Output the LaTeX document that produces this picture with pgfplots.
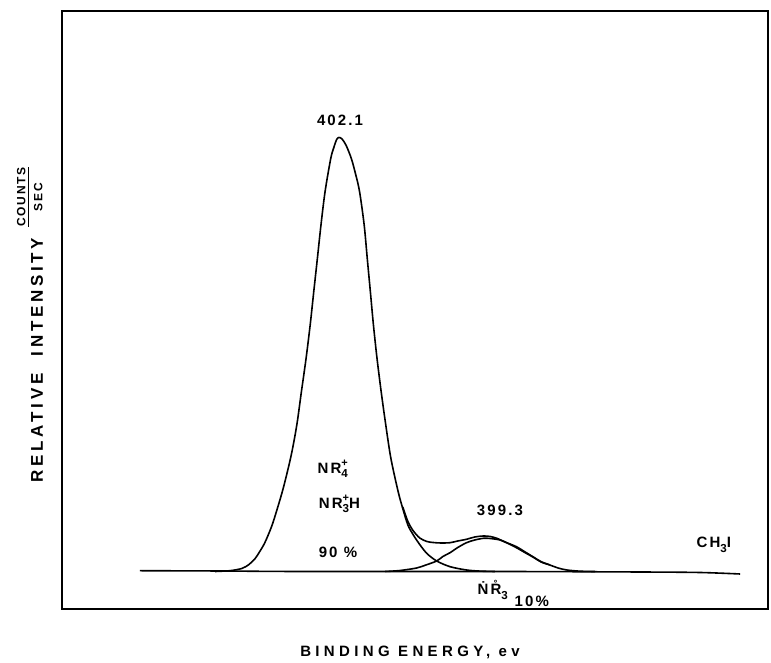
\documentclass[border=0pt]{standalone}
\usepackage{fontspec}
\setmainfont{Liberation Sans}[LetterSpace=14, UprightFont=* Bold]
\usepackage{pgfplots}
\pgfplotsset{compat=1.18}
\newcommand\supsub[2]{\makebox[0pt][l]{\raisebox{3.4pt}{\fontsize{5.5}{6}\selectfont #1}}\raisebox{-2.2pt}{\fontsize{5.8}{6}\selectfont #2}}
\newcommand\sub[1]{\raisebox{-2.2pt}{\fontsize{5.8}{6}\selectfont #1}}

\begin{document}
\begin{tikzpicture}
\begin{axis}[
  scale only axis, width=352.8pt, height=299.2pt,
  xmin=393.758, xmax=407.478, ymin=-37.5, ymax=560.9,
  x dir=reverse,
  axis line style={line width=1pt},
  ticks=none,
  clip=false,
]
% baseline
\addplot[black, line width=0.8pt, smooth] coordinates {
(405.97,0.8) (404.41,0.5) (402.86,0) (398.97,0) (396.25,-0.5) (395.08,-1) (394.30,-2.5)};
% main component (402.1 eV)
\addplot[black, line width=0.8pt, smooth] coordinates {
(404.51,0) (404.22,0.8) (403.99,3) (403.85,7) (403.73,13) (403.64,20) (403.54,29) (403.41,45)
(403.31,61) (403.18,84) (403.03,116) (402.92,146.5) (402.83,180) (402.74,213) (402.66,246.5)
(402.59,280) (402.52,313) (402.45,346.5) (402.37,380) (402.26,413) (402.20,424) (402.145,432)
(402.10,434) (402.04,432.5) (401.96,426) (401.86,413) (401.78,398) (401.70,380) (401.61,346.5)
(401.55,313) (401.49,280) (401.43,246.5) (401.36,213) (401.28,180) (401.19,146.5) (401.09,113)
(400.95,80) (400.86,63) (400.76,46.5) (400.66,37) (400.53,27) (400.39,18) (400.20,10.5)
(399.94,4.8) (399.62,1.5) (399.36,0.4) (399.07,0)};
% small component (399.3 eV)
\addplot[black, line width=0.8pt, smooth] coordinates {
(401.2,0) (400.91,1) (400.59,3.5) (400.41,6.5) (400.20,10.5) (400.08,15) (399.94,18.8) (399.79,24)
(399.62,28.8) (399.46,31.5) (399.29,33.2) (399.16,33) (398.97,31.5) (398.81,28) (398.65,23.8)
(398.48,18.8) (398.32,14.2) (398.17,9.5) (398.00,6.5) (397.84,3.5) (397.67,1.5) (397.41,0.3) (397.12,0)};
% envelope
\addplot[black, line width=0.8pt, smooth] coordinates {
(400.86,64.5) (400.76,50) (400.66,41) (400.53,33.5) (400.39,30) (400.27,29) (400.12,28.5) (399.94,28.8)
(399.79,30.5) (399.62,32.2) (399.46,34.5) (399.29,35.5) (399.16,35) (399.03,33.2) (398.87,29.5)
(398.65,24.8) (398.48,19.5) (398.32,14.5) (398.17,9.8) (398.00,6.6)};

\begin{scope}[every node/.style={font=\fontsize{7.5}{8}\selectfont, inner sep=0pt}]
\node at (axis cs:402.08,451) {402.1};
\node at (axis cs:398.97,61.5) {399.3};
\node at (axis cs:402.22,102.5) {NR\supsub{+}{4}};
\node at (axis cs:402.09,67.5) {NR\supsub{+}{3}H};
\node at (axis cs:402.12,19.5) {90~\%};
\node at (axis cs:394.81,26.5) {CH\sub{3}I};
\node at (axis cs:399.11,-18.5) {\.{N}\r{R}\sub{3}};
\node at (axis cs:398.35,-29.5) {10\%};
\end{scope}
\coordinate (fr) at (axis cs:407.478,-37.5);
\end{axis}
\node[rotate=90, font=\fontsize{8.5}{9}\selectfont\addfontfeatures{LetterSpace=22}, inner sep=0pt] at ([shift={(-12.7pt,124.5pt)}]fr) {RELATIVE\ \ INTENSITY};
\node[rotate=90, font=\fontsize{6}{7}\selectfont, inner sep=0pt] at ([shift={(-15.7pt,206pt)}]fr)
  {\begin{tabular}{@{}c@{}}COUNTS\\[-1pt]\hline\rule{0pt}{7pt}SEC\end{tabular}};
\node[font=\fontsize{7.5}{8}\selectfont\addfontfeatures{LetterSpace=29}, inner sep=0pt] at ([shift={(173.8pt,-21.5pt)}]fr) {BINDING ENERGY, ev};
\pgfresetboundingbox
\path[use as bounding box] ([shift={(-31.2pt,-27pt)}]fr) rectangle ++(385.5pt,331.5pt);
\end{tikzpicture}
\end{document}
